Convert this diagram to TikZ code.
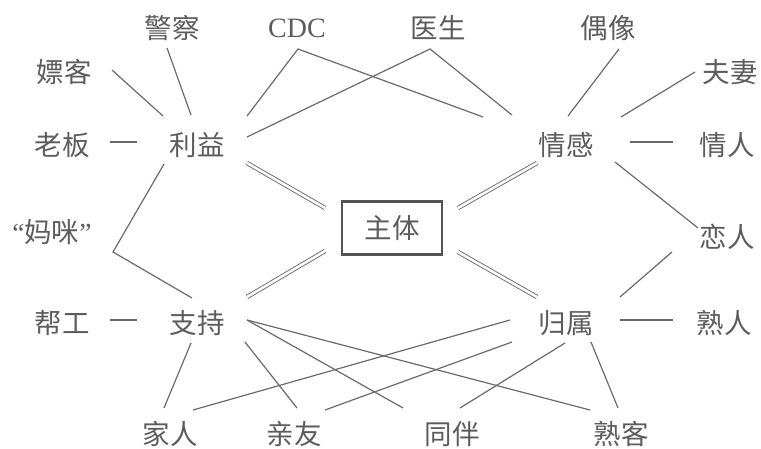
\documentclass[tikz,border=0pt]{standalone}
\usepackage{fontspec}
\setmainfont{Liberation Serif}
\newfontfamily\cjk{Noto Sans CJK SC}
\usetikzlibrary{calc}
\definecolor{ink}{HTML}{5C5C5C}
\definecolor{edge}{HTML}{6A6A6A}
\begin{document}
\begin{tikzpicture}[x=1pt,y=-1pt,
  lbl/.style={inner sep=0pt, text=ink, font=\cjk\fontsize{27.5}{27.5}\selectfont, text height=21pt, text depth=0pt},
  conn/.style={draw=edge, line width=1.2pt},
  dbl/.style={draw=edge, line width=0.9pt, double=white, double distance=2.6pt},
  boxed/.style={lbl, draw=ink!90!black, line width=2.4pt, minimum width=100pt, minimum height=53pt}]
\useasboundingbox (0,0) rectangle (761,449);
\node[lbl] (piao) at (64,72) {嫖客};
\node[lbl] (jing) at (172,28) {警察};
\node[lbl, font=\rmfamily\fontsize{28}{28}\selectfont, text height=18.5pt] (cdc) at (297,28) {CDC};
\node[lbl] (yi) at (438,28) {医生};
\node[lbl] (ou) at (608,28) {偶像};
\node[lbl] (fu) at (730,72) {夫妻};
\node[lbl] (lao) at (62,145) {老板};
\node[lbl] (li) at (197,145) {利益};
\node[lbl] (qg) at (566,145) {情感};
\node[lbl] (qr) at (727,145) {情人};
\node[lbl] (mami) at (52,232) {{\rmfamily “}妈咪{\rmfamily ”}};
\node[boxed] (zt) at (392,228) {主体};
\node[lbl] (lian) at (727,237) {恋人};
\node[lbl] (bang) at (62,323) {帮工};
\node[lbl] (zc) at (197,323) {支持};
\node[lbl] (gs) at (566,323) {归属};
\node[lbl] (sr) at (724,323) {熟人};
\node[lbl] (jr) at (170,434) {家人};
\node[lbl] (qy) at (294,434) {亲友};
\node[lbl] (tb) at (452,434) {同伴};
\node[lbl] (sk) at (621,434) {熟客};
% 利益
\draw[conn] ($(piao)+(48,-2)$) -- ($(li)+(-34,-29)$);
\draw[conn] ($(jing)+(-5,20)$) -- ($(li)+(-6,-30)$);
\draw[conn] ($(li)+(50,-29)$) -- ($(cdc)+(1,21)$) -- ($(qg)+(-83,-28)$);
\draw[conn] ($(li)+(50,-8)$) -- ($(yi)+(-8,21)$) -- ($(qg)+(-54,-30)$);
\draw[conn] ($(lao)+(48,-3)$) -- ($(li)+(-60,-3)$);
\draw[dbl] ($(li)+(50,18)$) -- ($(zt)+(-67,-20)$);
\draw[conn] ($(li)+(-33,19)$) -- ($(mami)+(61,20)$) -- ($(zc)+(-5,-25)$);
% 情感
\draw[conn] ($(ou)+(11,21)$) -- ($(qg)+(2,-29)$);
\draw[conn] ($(fu)+(-35,0)$) -- ($(qg)+(55,-28)$);
\draw[conn] ($(qg)+(64,-3)$) -- ($(qr)+(-54,-3)$);
\draw[conn] ($(qg)+(49,17)$) -- ($(lian)+(-29,-9)$);
\draw[dbl] ($(qg)+(-29,18)$) -- ($(zt)+(66,-20)$);
% 归属
\draw[conn] ($(lian)+(-55,15)$) -- ($(gs)+(54,-26)$);
\draw[dbl] ($(zt)+(66,24)$) -- ($(gs)+(-29,-26)$);
\draw[conn] ($(gs)+(54,-3)$) -- ($(sr)+(-51,-3)$);
% 支持
\draw[dbl] ($(zc)+(50,-26)$) -- ($(zt)+(-67,23)$);
\draw[conn] ($(bang)+(48,-3)$) -- ($(zc)+(-60,-3)$);
\draw[conn] ($(zc)+(-6,20)$) -- ($(jr)+(-6,-26)$);
\draw[conn] ($(zc)+(48,19)$) -- ($(qy)+(3,-26)$);
\draw[conn] ($(zc)+(50,-3)$) -- ($(tb)+(-49,-26)$);
\draw[conn] ($(zc)+(50,-3)$) -- ($(sk)+(-31,-24)$);
\draw[conn] ($(gs)+(-56,-3)$) -- ($(jr)+(23,-24)$);
\draw[conn] ($(gs)+(-54,19)$) -- ($(qy)+(31,-24)$);
\draw[conn] ($(gs)+(-1,20)$) -- ($(tb)+(8,-26)$);
\draw[conn] ($(gs)+(25,19)$) -- ($(sk)+(-3,-26)$);
\end{tikzpicture}
\end{document}
